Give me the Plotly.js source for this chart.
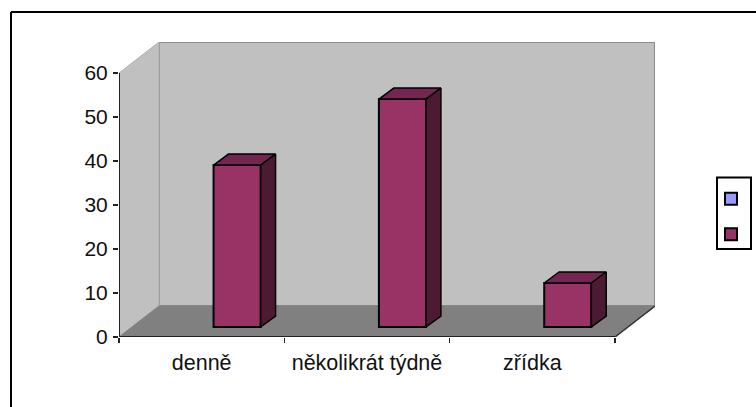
<!DOCTYPE html>
<html><head><meta charset="utf-8">
<script src="https://cdn.plot.ly/plotly-3.0.0.min.js"></script>
<style>html,body{margin:0;padding:0;background:#fff}#c{width:756px;height:407px}</style>
</head><body><div id="c"></div>
<script>
var categories = ['denně', 'několikrát týdně', 'zřídka'];
var emptySeries = [null, null, null];
var mainSeries = [36.8, 51.8, 10];
var yTicks = [0, 10, 20, 30, 40, 50, 60];
var colorFront = '#993366', colorTop = '#732650', colorSide = '#4D1A33', colorEmpty = '#9999FF';
var W = 756, H = 407;
var wallDX = 0.242, wallDY = 7.05;       // depth of the 3D box in axis units
var barDX = 0.09, barDY = 2.5;           // depth of each bar
var shiftX = 0.072, shiftY = 2.27;       // bars stand part-way into the floor
var barW = 0.285;
var xs = categories.map(function (_, i) { return i + shiftX; });

function poly(pts, fill) {
  return {x: pts.map(function (p) { return p[0]; }), y: pts.map(function (p) { return p[1]; }),
    mode: 'lines', fill: 'toself', fillcolor: fill, line: {color: '#000', width: 1.5},
    showlegend: false, hoverinfo: 'skip', type: 'scatter'};
}
function line(pts, color, width) {
  return {x: pts.map(function (p) { return p[0]; }), y: pts.map(function (p) { return p[1]; }),
    mode: 'lines', line: {color: color, width: width}, showlegend: false, hoverinfo: 'skip', type: 'scatter'};
}
var traces = [
  {type: 'bar', name: ' ', x: xs, y: emptySeries, marker: {color: colorEmpty, line: {color: '#000', width: 2}}},
  {type: 'bar', name: ' ', x: xs, y: mainSeries, base: shiftY, marker: {color: colorFront, line: {color: '#000', width: 2}}}
];
xs.forEach(function (x, i) {
  var l = x, r = x + barW, b = shiftY, t = shiftY + mainSeries[i];
  traces.push(poly([[l, t], [l + barDX, t + barDY], [r + barDX, t + barDY], [r, t], [l, t]], colorTop));
  traces.push(poly([[r, t], [r + barDX, t + barDY], [r + barDX, b + barDY], [r, b], [r, t]], colorSide));
});
var x0 = -0.5, x1 = categories.length - 0.5, top60 = 60;
traces.push(line([[x0, 0], [x0, top60]], '#222', 2));
traces.push(line([[x0, 0], [x1, 0]], '#222', 2));
traces.push(line([[x1, 0], [x1 + wallDX, wallDY]], '#333', 1.5));

function pathOf(pts) {
  return 'M' + pts.map(function (p) { return p[0] + ',' + p[1]; }).join('L') + 'Z';
}
var wallLine = {color: '#8c8c8c', width: 2};
var shapes = [
  {type: 'path', layer: 'below', xref: 'x', yref: 'y', fillcolor: '#C0C0C0', line: wallLine,
   path: pathOf([[x0 + wallDX, wallDY], [x1 + wallDX, wallDY], [x1 + wallDX, top60 + wallDY], [x0 + wallDX, top60 + wallDY]])},
  {type: 'path', layer: 'below', xref: 'x', yref: 'y', fillcolor: '#C0C0C0', line: {color: '#b0b0b0', width: 1},
   path: pathOf([[x0, 0], [x0 + wallDX, wallDY], [x0 + wallDX, top60 + wallDY], [x0, top60]])},
  {type: 'path', layer: 'below', xref: 'x', yref: 'y', fillcolor: '#808080', line: {color: '#808080', width: 1},
   path: pathOf([[x0, 0], [x1, 0], [x1 + wallDX, wallDY], [x0 + wallDX, wallDY]])},
  {type: 'line', xref: 'paper', yref: 'paper', x0: 11 / W, x1: 1, y0: 1 - 12 / H, y1: 1 - 12 / H, line: {color: '#000', width: 2}},
  {type: 'line', xref: 'paper', yref: 'paper', x0: 11 / W, x1: 11 / W, y0: 1 - 12 / H, y1: 0, line: {color: '#000', width: 2}},
  {type: 'rect', xref: 'paper', yref: 'paper', x0: 717 / W, x1: 751 / W, y0: 1 - 177.5 / H, y1: 1 - 249 / H, line: {color: '#000', width: 2}}
];
var layout = {
  width: W, height: H, paper_bgcolor: '#fff', plot_bgcolor: 'rgba(0,0,0,0)',
  margin: {l: 0, r: 0, t: 0, b: 0, autoexpand: false},
  font: {family: '"Liberation Sans", Arial, sans-serif', size: 21, color: '#111'},
  barmode: 'group', bargap: 1 - 2 * barW, bargroupgap: 0,
  showlegend: true,
  legend: {x: (731 - 20) / W, xanchor: 'left', y: 1 - 176 / H, yanchor: 'top', bgcolor: 'rgba(0,0,0,0)', borderwidth: 0,
    font: {size: 25}, traceorder: 'normal', itemclick: false, itemdoubleclick: false, entrywidth: 1},
  xaxis: {domain: [119 / W, 655 / W], range: [x0, x1 + wallDX], tickmode: 'array',
    tickvals: categories.map(function (_, i) { return i; }), ticktext: categories, tickfont: {size: 21.5},
    ticks: '', showgrid: false, zeroline: false, showline: false, ticklabelstandoff: 10,
    minor: {tickmode: 'array', tickvals: [-0.5, 0.5, 1.5, 2.5], ticks: 'outside', ticklen: 5, tickwidth: 1.5, tickcolor: '#222', showgrid: false}},
  yaxis: {domain: [(H - 337) / H, (H - 42) / H], range: [0, top60 + wallDY], tickmode: 'array', tickvals: yTicks,
    ticks: 'outside', ticklen: 5, tickwidth: 1.5, tickcolor: '#222', showgrid: false, zeroline: false, showline: false,
    ticklabelstandoff: 1},
  shapes: shapes
};
Plotly.newPlot('c', traces, layout, {displayModeBar: false, staticPlot: true});
</script></body></html>
